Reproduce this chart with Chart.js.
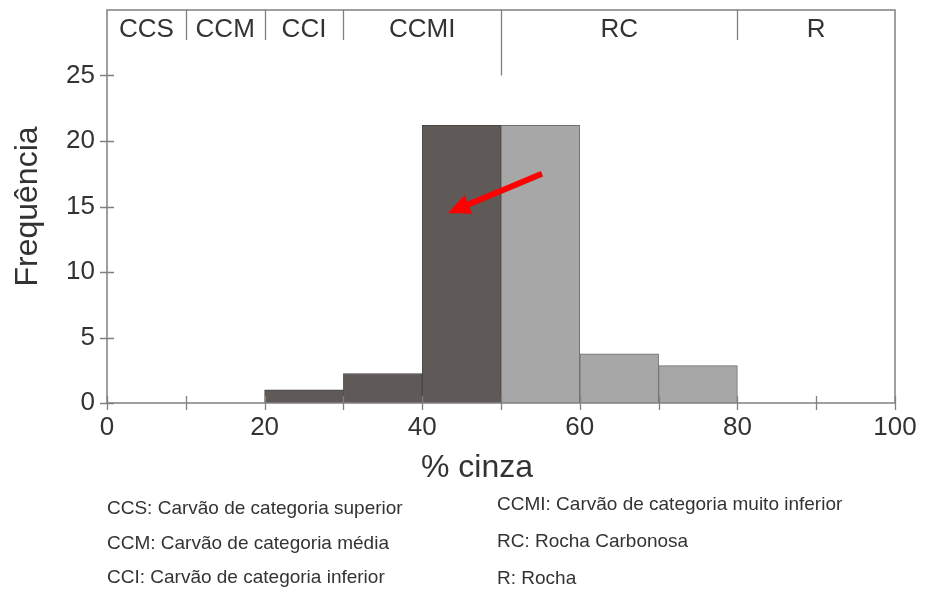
<!DOCTYPE html>
<html>
<head>
<meta charset="utf-8">
<script src="https://cdn.jsdelivr.net/npm/chart.js@4/dist/chart.umd.min.js"></script>
<style>
  html, body { margin: 0; padding: 0; background: #fff; }
  canvas { display: block; }
</style>
</head>
<body>
<canvas id="hist" width="926" height="590"></canvas>
<script>
// Histogram bins (% cinza) and their frequencies
const binCenters = [25, 35, 45, 55, 65, 75];
const frequencies = [1, 2.25, 21.2, 21.2, 3.75, 2.85];
const binGroups = ['carvao', 'carvao', 'carvao', 'rocha', 'rocha', 'rocha'];

// Ash-content classes shown in the band along the top of the plot
const classNames = ['CCS', 'CCM', 'CCI', 'CCMI', 'RC', 'R'];
const classLimits = [0, 10, 20, 30, 50, 80, 100];
const coalRockLimit = 50;

// Axis ticks
const xLabelTicks = [0, 20, 40, 60, 80, 100];
const xMinorTicks = [0, 10, 20, 30, 40, 50, 60, 70, 80, 90, 100];
const yTicks = [0, 5, 10, 15, 20, 25];

// Class descriptions under the chart
const descLeft = [
  'CCS: Carvão de categoria superior',
  'CCM: Carvão de categoria média',
  'CCI: Carvão de categoria inferior'
];
const descRight = [
  'CCMI: Carvão de categoria muito inferior',
  'RC: Rocha Carbonosa',
  'R: Rocha'
];

// Red arrow pointing into the 40-50 bin
const arrowTail = { x: 55.2, y: 17.5 };
const arrowTip = { x: 43.3, y: 14.5 };

const FONT = '"Liberation Sans", Arial, Helvetica, sans-serif';
const TEXT = '#333333';
const LINE = '#808080';
const groupFill = { carvao: '#5f5a57', rocha: '#a7a7a7' };
const groupEdge = { carvao: '#4a4644', rocha: '#6e6e6e' };

const overlay = {
  id: 'overlay',
  afterDraw(chart) {
    const { ctx, chartArea: a, scales: { x, y } } = chart;
    ctx.save();

    // plot frame
    ctx.strokeStyle = LINE;
    ctx.lineWidth = 1.5;
    ctx.strokeRect(a.left, a.top, a.right - a.left, a.bottom - a.top);

    // tick marks crossing the axes
    ctx.lineWidth = 1.3;
    ctx.beginPath();
    xMinorTicks.forEach(v => {
      const px = Math.round(x.getPixelForValue(v)) + 0.5;
      ctx.moveTo(px, a.bottom - 7);
      ctx.lineTo(px, a.bottom + 7);
    });
    yTicks.forEach(v => {
      const py = Math.round(y.getPixelForValue(v)) + 0.5;
      ctx.moveTo(a.left - 7, py);
      ctx.lineTo(a.left + 7, py);
    });
    ctx.stroke();

    // class band: dividers and names
    ctx.beginPath();
    classLimits.slice(1, -1).forEach(v => {
      const px = Math.round(x.getPixelForValue(v)) + 0.5;
      const bottom = v === coalRockLimit ? y.getPixelForValue(25) : a.top + 30;
      ctx.moveTo(px, a.top);
      ctx.lineTo(px, bottom);
    });
    ctx.stroke();

    ctx.fillStyle = TEXT;
    ctx.font = '26px ' + FONT;
    ctx.textAlign = 'center';
    ctx.textBaseline = 'alphabetic';
    classNames.forEach((name, i) => {
      const mid = (classLimits[i] + classLimits[i + 1]) / 2;
      ctx.fillText(name, x.getPixelForValue(mid), a.top + 27);
    });

    // arrow
    const x0 = x.getPixelForValue(arrowTail.x), y0 = y.getPixelForValue(arrowTail.y);
    const x1 = x.getPixelForValue(arrowTip.x), y1 = y.getPixelForValue(arrowTip.y);
    const ang = Math.atan2(y1 - y0, x1 - x0);
    const headLen = 22, headHalf = 10;
    const bx = x1 - headLen * Math.cos(ang), by = y1 - headLen * Math.sin(ang);
    ctx.strokeStyle = '#ff0000';
    ctx.fillStyle = '#ff0000';
    ctx.lineWidth = 6;
    ctx.lineCap = 'butt';
    ctx.beginPath();
    ctx.moveTo(x0, y0);
    ctx.lineTo(bx + 2 * Math.cos(ang), by + 2 * Math.sin(ang));
    ctx.stroke();
    ctx.beginPath();
    ctx.moveTo(x1, y1);
    ctx.lineTo(bx + headHalf * Math.sin(ang), by - headHalf * Math.cos(ang));
    ctx.lineTo(bx - headHalf * Math.sin(ang), by + headHalf * Math.cos(ang));
    ctx.closePath();
    ctx.fill();

    // x axis title
    ctx.fillStyle = TEXT;
    ctx.font = '32px ' + FONT;
    ctx.textAlign = 'center';
    ctx.fillText('% cinza', 477, 477);

    // class descriptions
    ctx.font = '19px ' + FONT;
    ctx.textAlign = 'left';
    descLeft.forEach((t, i) => ctx.fillText(t, 107, 514 + i * 34.5));
    descRight.forEach((t, i) => ctx.fillText(t, 497, 510 + i * 37));

    ctx.restore();
  }
};

new Chart(document.getElementById('hist'), {
  type: 'bar',
  data: {
    datasets: [{
      data: binCenters.map((c, i) => ({ x: c, y: frequencies[i] })),
      backgroundColor: binGroups.map(g => groupFill[g]),
      borderColor: binGroups.map(g => groupEdge[g]),
      borderWidth: 1,
      barPercentage: 1,
      categoryPercentage: 1
    }]
  },
  options: {
    responsive: false,
    animation: false,
    devicePixelRatio: 1,
    layout: { padding: { top: 10, right: 31, left: 0, bottom: 0 } },
    plugins: { legend: { display: false }, tooltip: { enabled: false } },
    scales: {
      x: {
        type: 'linear',
        min: 0,
        max: 100,
        offset: false,
        grid: { display: false, drawTicks: false, offset: false },
        border: { display: false },
        afterBuildTicks(s) { s.ticks = xLabelTicks.map(v => ({ value: v })); },
        ticks: {
          autoSkip: false,
          maxRotation: 0,
          padding: 9,
          color: TEXT,
          font: { family: FONT, size: 26 }
        },
        afterFit(s) {
          s.height = 187;
          s.paddingLeft = 0;
          s.paddingRight = 0;
        }
      },
      y: {
        min: 0,
        max: 30,
        grid: { display: false, drawTicks: false },
        border: { display: false },
        afterBuildTicks(s) { s.ticks = yTicks.map(v => ({ value: v })); },
        ticks: {
          padding: 12,
          color: TEXT,
          font: { family: FONT, size: 26 }
        },
        title: {
          display: true,
          text: 'Frequência',
          color: TEXT,
          font: { family: FONT, size: 32 },
          padding: { top: 9, bottom: 0 }
        },
        afterFit(s) {
          s.width = 107;
          s.paddingTop = 0;
          s.paddingBottom = 0;
        }
      }
    }
  },
  plugins: [overlay]
});
</script>
</body>
</html>
